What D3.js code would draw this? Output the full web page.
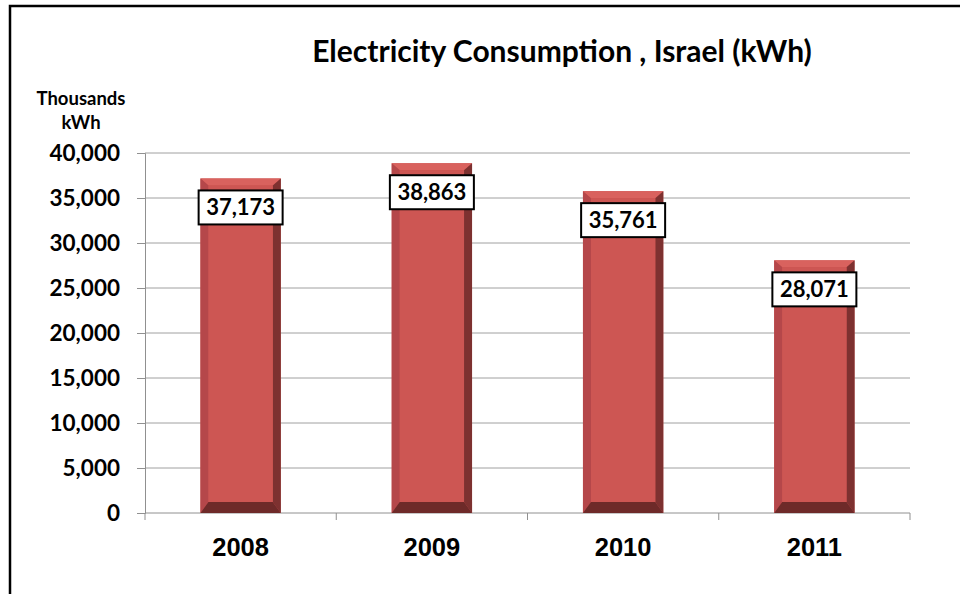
<!DOCTYPE html>
<html><head><meta charset="utf-8">
<script src="https://cdn.jsdelivr.net/npm/d3@7"></script>
<style>body{margin:0;background:#fff}svg{display:block}</style>
</head><body>
<script>
const categories = ["2008", "2009", "2010", "2011"];
const values = [37173, 38863, 35761, 28071];
const yTicks = [0, 5000, 10000, 15000, 20000, 25000, 30000, 35000, 40000];
const title = "Electricity Consumption , Israel (kWh)";

const W = 960, H = 594;
const svg = d3.select("body").append("svg").attr("width", W).attr("height", H);
svg.append("rect").attr("x",0).attr("y",0).attr("width",W).attr("height",H).attr("fill","#fff");
// frame
svg.append("path").attr("d","M10,594 V6 H960").attr("fill","none").attr("stroke","#000").attr("stroke-width",2.5);

const m = {left:145, right:910, top:153, bottom:513};
const x = d3.scaleBand().domain(categories).range([m.left, m.right]).paddingInner(0.58).paddingOuter(0.29);
const y = d3.scaleLinear().domain([0, 40000]).range([m.bottom, m.top]);

// gridlines
svg.append("g").selectAll("line").data(yTicks.filter(d=>d>0)).join("line")
  .attr("x1", m.left).attr("x2", m.right).attr("y1", d=>y(d)).attr("y2", d=>y(d))
  .attr("stroke","#a0a0a0").attr("stroke-width",1);

// y axis
const fmt = d3.format(",");
const yAxis = svg.append("g").attr("transform",`translate(${m.left},0)`)
  .call(d3.axisLeft(y).tickValues(yTicks).tickFormat(fmt).tickSize(8).tickPadding(17));
yAxis.select(".domain").attr("stroke","#909090");
yAxis.selectAll(".tick line").attr("stroke","#909090");
yAxis.selectAll("text").attr("font-family","Lato, 'Open Sans', sans-serif").attr("font-weight","bold")
  .attr("font-size",22.5).attr("fill","#000");

// x axis
const xb = d3.scaleLinear().domain([0, categories.length]).range([m.left, m.right]);
const xAxisG = svg.append("g").attr("transform",`translate(0,${m.bottom})`);
xAxisG.append("line").attr("x1",m.left).attr("x2",m.right).attr("stroke","#909090");
xAxisG.selectAll("line.t").data(d3.range(categories.length+1)).join("line").attr("class","t")
  .attr("x1",d=>xb(d)).attr("x2",d=>xb(d)).attr("y1",0).attr("y2",7).attr("stroke","#909090");
xAxisG.selectAll("text").data(categories).join("text")
  .attr("x",d=>x(d)+x.bandwidth()/2).attr("y",43).attr("text-anchor","middle")
  .attr("font-family","'Liberation Sans', Arial, sans-serif").attr("font-weight","bold")
  .attr("font-size",25.5).attr("fill","#000").text(d=>d);

// bars with bevel
const bw = x.bandwidth();
const bars = svg.append("g").selectAll("g").data(categories).join("g");
bars.each(function(c,i){
  const g = d3.select(this);
  const x0 = x(c), x1 = x0 + bw, y0 = y(values[i]), y1 = y(0);
  const bs = 8, bb = 11, bt = 7;
  const ix0 = x0+bs, ix1 = x1-bs, iy0 = y0+bt, iy1 = y1-bb;
  g.append("rect").attr("x",x0).attr("y",y0).attr("width",bw).attr("height",y1-y0).attr("fill","#c9504e");
  const poly = (pts, fill) => g.append("polygon").attr("points", pts.map(p=>p.join(",")).join(" ")).attr("fill",fill);
  poly([[x0,y0],[x1,y0],[ix1,iy0],[ix0,iy0]], "#d9625e");
  poly([[x0,y0],[ix0,iy0],[ix0,iy1],[x0,y1]], "#b5474a");
  poly([[x1,y0],[x1,y1],[ix1,iy1],[ix1,iy0]], "#7d3130");
  poly([[x0,y1],[x1,y1],[ix1,iy1],[ix0,iy1]], "#6e2a29");
  g.append("rect").attr("x",ix0).attr("y",iy0).attr("width",ix1-ix0).attr("height",iy1-iy0).attr("fill","#cd5653");
});

// data labels
const lab = svg.append("g").selectAll("g").data(categories).join("g")
  .attr("transform",(c,i)=>`translate(${x(c)+bw/2},${y(values[i])+29})`);
lab.append("rect").attr("x",-42).attr("y",-17).attr("width",84).attr("height",34)
  .attr("fill","#fff").attr("stroke","#000").attr("stroke-width",2);
lab.append("text").attr("text-anchor","middle").attr("dy","0.36em")
  .attr("font-family","Lato, 'Open Sans', sans-serif").attr("font-weight","bold").attr("font-size",22)
  .attr("fill","#000").text((c,i)=>fmt(values[i]));

// title
svg.append("text").attr("x",562).attr("y",62).attr("text-anchor","middle")
  .attr("font-family","Lato, 'Open Sans', sans-serif").attr("font-weight","bold").attr("font-size",30)
  .attr("fill","#000").text(title);

// y unit label
svg.append("text").attr("x",81).attr("y",105).attr("text-anchor","middle")
  .attr("font-family","Lato, 'Open Sans', sans-serif").attr("font-weight","bold").attr("font-size",18.5)
  .attr("fill","#000").text("Thousands");
svg.append("text").attr("x",81).attr("y",129).attr("text-anchor","middle")
  .attr("font-family","Lato, 'Open Sans', sans-serif").attr("font-weight","bold").attr("font-size",18.5)
  .attr("fill","#000").text("kWh");
</script>
</body></html>
